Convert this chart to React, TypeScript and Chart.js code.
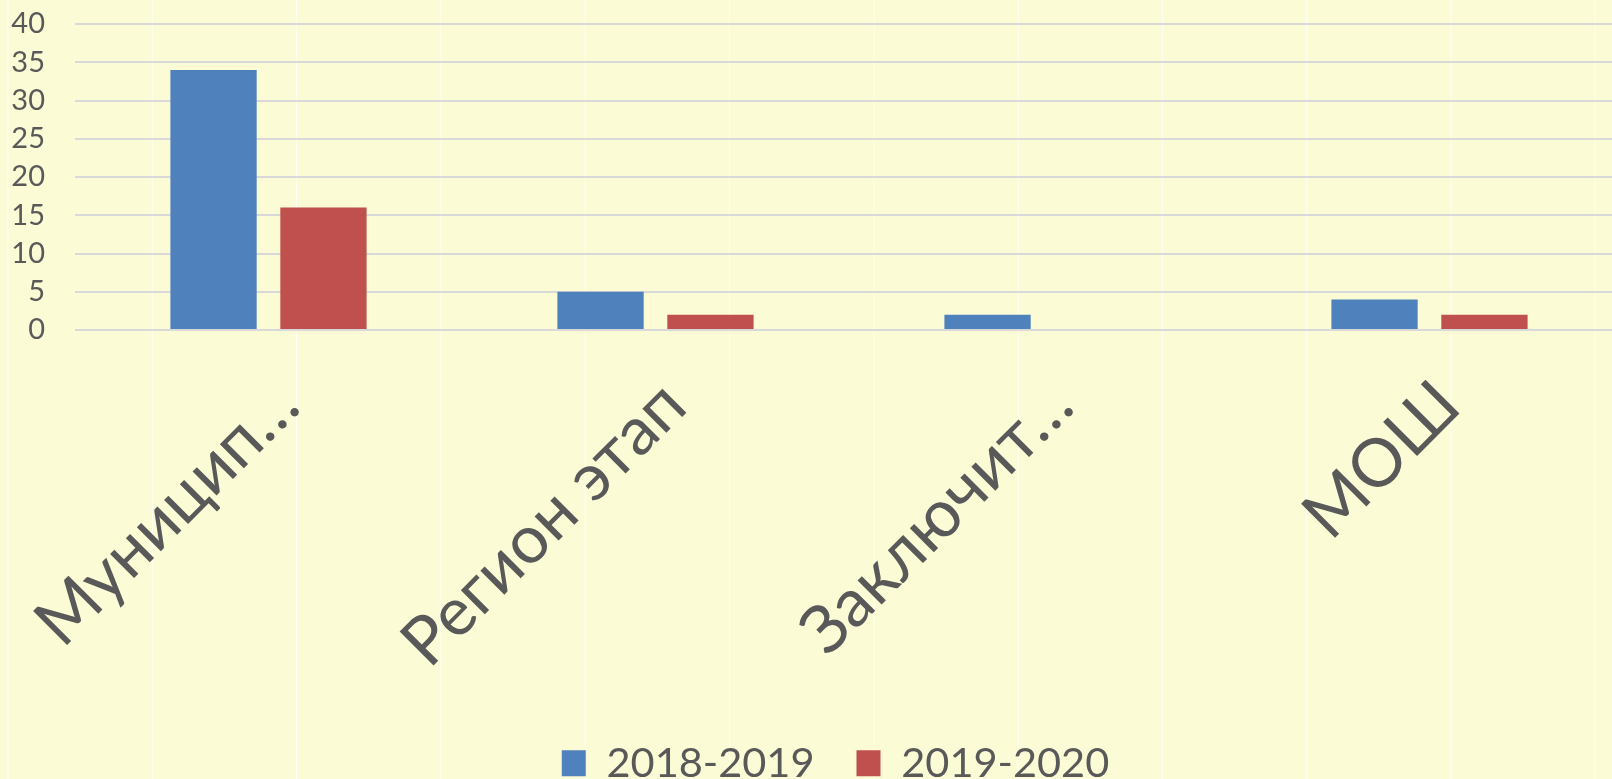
import React, { useEffect, useRef } from "react";
import { Chart, registerables } from "chart.js";

Chart.register(...registerables);

const categories = ["Муницип…", "Регион этап", "Заключит…", "МОШ"];
const series1Label = "2018-2019";
const series2Label = "2019-2020";
const series1Values = [34, 5, 2, 4];
const series2Values = [16, 2, 0, 2];
const yTicks = [0, 5, 10, 15, 20, 25, 30, 35, 40];

const FONT = "Lato, 'Noto Sans', sans-serif";
const TEXT = "#595959";

const legendShift = {
  id: "legendShift",
  afterLayout(chart: any) {
    const l = chart.legend;
    if (l) {
      l.left -= 13.5;
      l.right -= 13.5;
    }
  },
};

export default function App() {
  const ref = useRef<HTMLCanvasElement | null>(null);

  useEffect(() => {
    document.body.style.margin = "0";
    const canvas = ref.current;
    if (!canvas) return;
    const chart = new Chart(canvas, {
      type: "bar",
      data: {
        labels: categories,
        datasets: [
          {
            label: series1Label,
            data: series1Values,
            backgroundColor: "#4F81BD",
            categoryPercentage: 0.568,
            barPercentage: 0.785,
          },
          {
            label: series2Label,
            data: series2Values,
            backgroundColor: "#C0504D",
            categoryPercentage: 0.568,
            barPercentage: 0.785,
          },
        ],
      },
      plugins: [legendShift],
      options: {
        animation: false,
        responsive: false,
        maintainAspectRatio: false,
        layout: { padding: { left: 0, right: 0, top: 24, bottom: -15 } },
        plugins: {
          tooltip: { enabled: false },
          legend: {
            position: "bottom",
            fullSize: false,
            labels: {
              boxWidth: 24,
              boxHeight: 26,
              padding: 42,
              color: TEXT,
              font: { family: FONT, size: 41.5 },
            },
          },
        },
        scales: {
          x: {
            grid: { display: false },
            border: { display: false },
            ticks: {
              autoSkip: false,
              maxRotation: 45,
              minRotation: 45,
              color: TEXT,
              labelOffset: 19,
              padding: 27.5,
              font: { family: FONT, size: 67 },
            },
            afterFit: (s: any) => {
              s.height = 370.5;
              s.paddingLeft = 0;
              s.paddingRight = 0;
            },
          },
          y: {
            min: 0,
            max: 40,
            afterBuildTicks: (s: any) => {
              s.ticks = yTicks.map((v) => ({ value: v }));
            },
            grid: {
              color: "#D9D9D9",
              lineWidth: 2,
              drawTicks: true,
              tickLength: 30,
              tickColor: "rgba(0,0,0,0)",
            },
            border: { display: false },
            ticks: {
              autoSkip: false,
              color: TEXT,
              padding: 0,
              font: { family: FONT, size: 29 },
            },
            afterFit: (s: any) => {
              s.width = 75;
            },
          },
        },
      },
    });
    return () => chart.destroy();
  }, []);

  return (
    <div
      style={{
        position: "relative",
        width: 1612,
        height: 779,
        overflow: "hidden",
        backgroundColor: "#FBFBD6",
        backgroundImage:
          "linear-gradient(to right, rgba(255,255,255,0.8) 0px, rgba(255,255,255,0.8) 1px, transparent 1px)",
        backgroundSize: "144.3px 100%",
        backgroundPosition: "7.5px 0",
      }}
    >
      <canvas ref={ref} width={1623} height={779} style={{ display: "block" }} />
    </div>
  );
}
